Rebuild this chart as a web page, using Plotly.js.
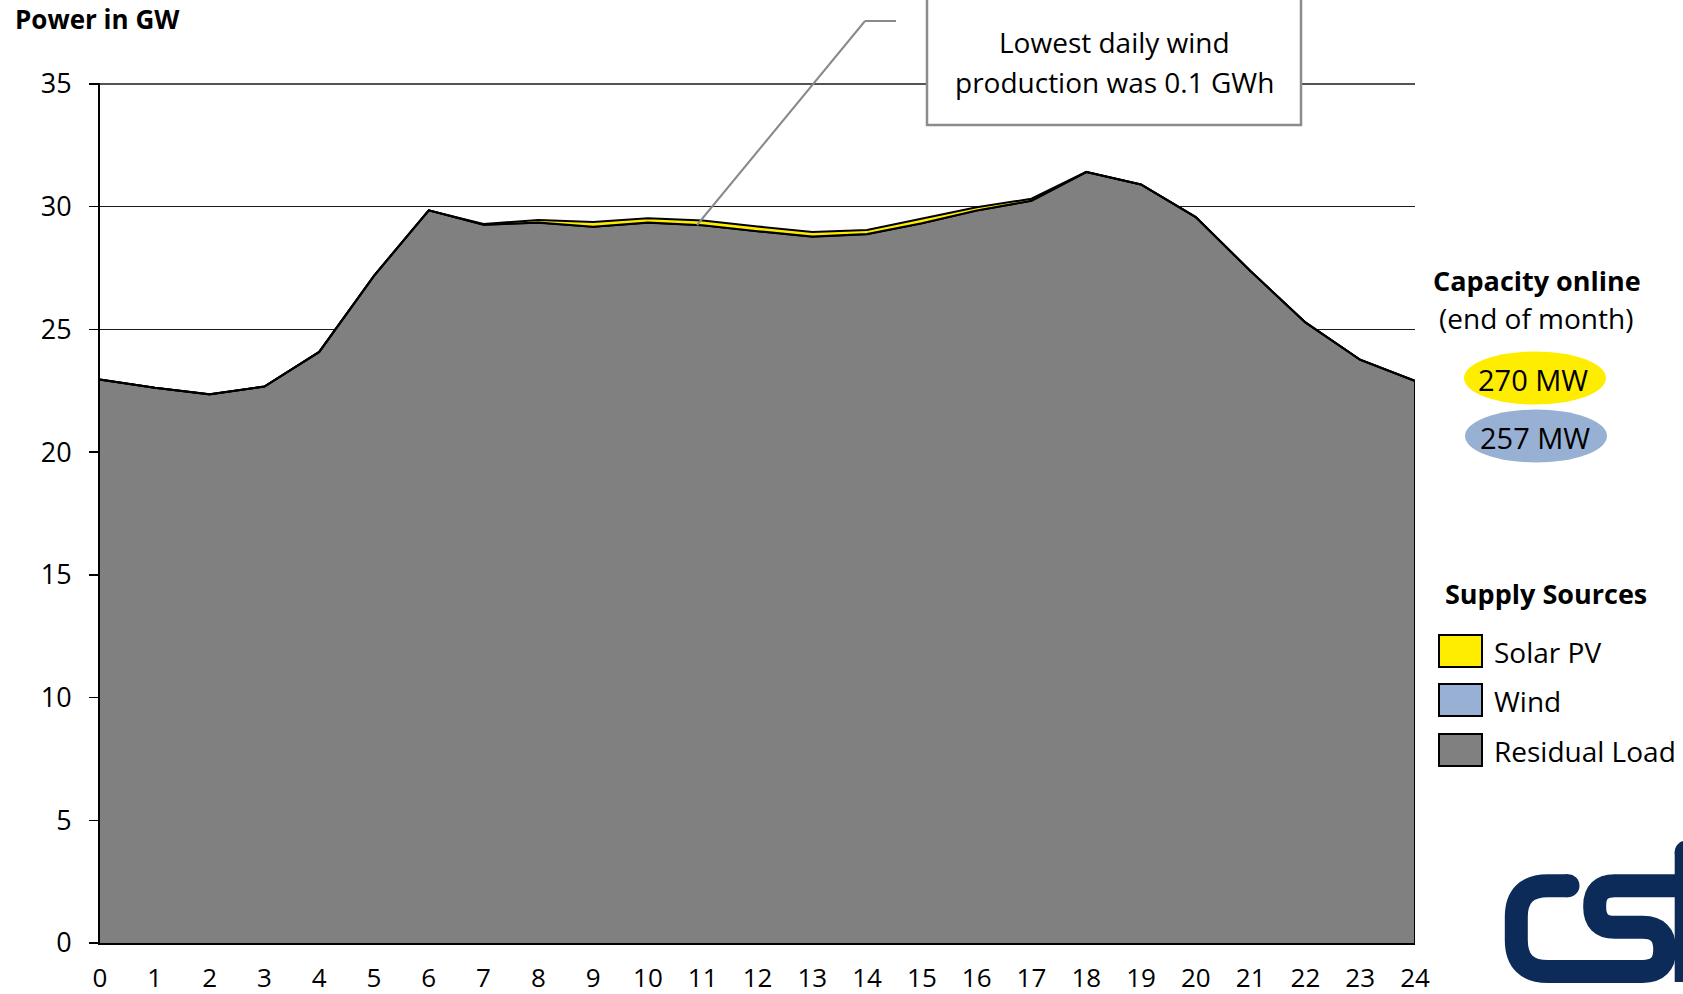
<!DOCTYPE html>
<html><head><meta charset="utf-8">
<script src="https://cdn.plot.ly/plotly-3.0.1.min.js"></script>
<style>html,body{margin:0;padding:0;background:#fff}</style>
</head><body><div id="chart" style="width:1683px;height:994px"></div>
<script>
// ---- data ----
const hours = [0,1,2,3,4,5,6,7,8,9,10,11,12,13,14,15,16,17,18,19,20,21,22,23,24];
const residualLoad = [22.95,22.62,22.35,22.67,24.08,27.18,29.85,29.26,29.35,29.18,29.35,29.24,29.0,28.78,28.88,29.32,29.84,30.24,31.41,30.9,29.57,27.37,25.28,23.76,22.9];
const windPower = [0.012,0.005,0.004,0.003,0.003,0.004,0.005,0.005,0.004,0.003,0.003,0.004,0.004,0.004,0.005,0.004,0.004,0.004,0.004,0.005,0.005,0.004,0.004,0.005,0.005];
const solarPower = [0,0,0,0,0,0,0,0.03,0.1,0.19,0.18,0.19,0.19,0.19,0.17,0.2,0.13,0.08,0.01,0,0,0,0,0,0];
const yTicks = [0,5,10,15,20,25,30,35];
const seriesNames = ['Residual Load','Wind','Solar PV'];
const capacitySolar = '270 MW';
const capacityWind = '257 MW';
const noteLines = ['Lowest daily wind','production was 0.1 GWh'];

// ---- layout helpers (pixel -> paper) ----
const W = 1683, H = 994, ML = 100, MR = 268, MT = 83, MB = 51;
const PW = W - ML - MR, PH = H - MT - MB;
const px = v => (v - ML) / PW;
const py = v => (H - MB - v) / PH;
const FONT = 'Open Sans, sans-serif';
const COL = {solar:'#FFED00', wind:'#97B0D4', resid:'#808080', navy:'#0D2B58'};

const lastIdx = hours.length - 1;
const totalEnd = residualLoad[lastIdx] + windPower[lastIdx] + solarPower[lastIdx];
const topTick = yTicks[yTicks.length - 1];

const traces = [
  {x: hours, y: residualLoad, name: seriesNames[0], type:'scatter', mode:'lines', stackgroup:'one',
   fillcolor: COL.resid, line:{color:'#000', width:2}, hoverinfo:'skip'},
  {x: hours, y: windPower, name: seriesNames[1], type:'scatter', mode:'lines', stackgroup:'one',
   fillcolor: COL.wind, line:{color:'#000', width:2}, hoverinfo:'skip'},
  {x: hours, y: solarPower, name: seriesNames[2], type:'scatter', mode:'lines', stackgroup:'one',
   fillcolor: COL.solar, line:{color:'#000', width:2}, hoverinfo:'skip'},
  {x: [hours[lastIdx], hours[lastIdx]], y: [0, totalEnd], type:'scatter', mode:'lines',
   line:{color:'#000', width:2}, showlegend:false, hoverinfo:'skip'}
];

// logo path (centerlines) built from pixel positions
function P(cmds){
  return cmds.map(c => c[0] + ' ' + c.slice(1).reduce((a,v,i)=>{
    a.push(i%2===0 ? px(v).toFixed(5) : py(v).toFixed(5)); return a;},[]).join(',')).join(' ');
}
const logoCS = P([
  ['M',1568,885.7],['L',1548,885.7],['Q',1516.3,885.7,1516.3,917],['L',1516.3,940],
  ['Q',1516.3,971.5,1548,971.5],['L',1642.7,971.5],['Q',1664.7,971.5,1664.7,949.4],
  ['Q',1664.7,927.3,1642.7,927.3],['L',1614.7,927.3],['Q',1594.7,927.3,1594.7,907.3],
  ['L',1594.7,905.7],['Q',1594.7,885.7,1614.7,885.7],['L',1700,885.7]]);
const logoI = P([['M',1686.2,852],['L',1686.2,982]]);
const cap = (cx, cy, r) => ({type:'circle', xref:'paper', yref:'paper', x0:px(cx-r), x1:px(cx+r),
  y0:py(cy+r), y1:py(cy-r), fillcolor:COL.navy, line:{width:0}});

const shapes = [
  // top gridline (at highest tick)
  {type:'line', xref:'paper', yref:'y', x0:px(91), x1:1, y0:topTick, y1:topTick, line:{color:'#1a1a1a', width:1.5}, layer:'below'},
  // annotation box
  {type:'rect', xref:'paper', yref:'paper', x0:px(927), x1:px(1301), y0:py(125), y1:py(-10),
   fillcolor:'#fff', line:{color:'#8c8c8c', width:2.5}, layer:'above'},
  // leader line
  {type:'line', xref:'paper', yref:'paper', x0:px(896), y0:py(21), x1:px(865), y1:py(21), line:{color:'#898989', width:2}},
  {type:'line', xref:'paper', yref:'paper', x0:px(865), y0:py(21), x1:px(697), y1:py(225), line:{color:'#898989', width:2}},
  // capacity ellipses
  {type:'circle', xref:'paper', yref:'paper', x0:px(1464), x1:px(1606), y0:py(404.5), y1:py(351.5), fillcolor:COL.solar, line:{width:0}},
  {type:'circle', xref:'paper', yref:'paper', x0:px(1465), x1:px(1607), y0:py(462.5), y1:py(409.5), fillcolor:COL.wind, line:{width:0}},
  // legend boxes
  {type:'rect', xref:'paper', yref:'paper', x0:px(1439), x1:px(1482), y0:py(667), y1:py(635), fillcolor:COL.solar, line:{color:'#000', width:2}},
  {type:'rect', xref:'paper', yref:'paper', x0:px(1439), x1:px(1482), y0:py(716), y1:py(684), fillcolor:COL.wind, line:{color:'#000', width:2}},
  {type:'rect', xref:'paper', yref:'paper', x0:px(1439), x1:px(1482), y0:py(766), y1:py(734), fillcolor:COL.resid, line:{color:'#000', width:2}},
  // logo
  {type:'path', xref:'paper', yref:'paper', path:logoCS, line:{color:COL.navy, width:23}},
  {type:'path', xref:'paper', yref:'paper', path:logoI, line:{color:COL.navy, width:23}},
  cap(1568,885.7,11.5), cap(1686.2,852.2,11.5)
];

const ann = (text, x, y, opts={}) => Object.assign({text, xref:'paper', yref:'paper', x:px(x), y:py(y),
  showarrow:false, xanchor:'center', yanchor:'middle', font:{family:FONT, size:28, color:'#000'}}, opts);
const boldFont = {family:FONT, size:27, color:'#000'};

const annotations = [
  ann('<b>Power in GW</b>', 13, 19, {xanchor:'left', font:{family:FONT, size:26, color:'#000'}}),
  ann(noteLines[0], 1114, 42.5),
  ann(noteLines[1], 1114, 82),
  ann('<b>Capacity online</b>', 1537, 280, {font:boldFont}),
  ann('(end of month)', 1536, 318),
  ann(capacitySolar, 1533, 379, {font:{family:FONT, size:29, color:'#000'}}),
  ann(capacityWind, 1535, 437, {font:{family:FONT, size:29, color:'#000'}}),
  ann('<b>Supply Sources</b>', 1546, 593, {font:boldFont}),
  ann(seriesNames[2], 1492, 652, {xanchor:'left'}),
  ann(seriesNames[1], 1492, 701, {xanchor:'left'}),
  ann(seriesNames[0], 1492, 751, {xanchor:'left'})
];

const layout = {
  width: W, height: H,
  margin: {l:ML, r:MR, t:MT, b:MB, pad:0},
  paper_bgcolor:'#fff', plot_bgcolor:'#fff',
  showlegend:false,
  font:{family:FONT, size:27, color:'#000'},
  xaxis:{range:[0,24], tickvals:hours, ticktext:hours.map(String), showgrid:false, zeroline:false,
         showline:true, linecolor:'#000', linewidth:2, ticks:'', ticklabelstandoff:11,
         tickfont:{family:FONT, size:26, color:'#000'}, fixedrange:true},
  yaxis:{range:[0,35.04], tickvals:yTicks, showgrid:true, gridcolor:'#1a1a1a', gridwidth:1.5, zeroline:false,
         showline:true, linecolor:'#000', linewidth:2, ticks:'outside', ticklen:9, tickwidth:1.5, tickcolor:'#000',
         ticklabelstandoff:12, tickfont:{family:FONT, size:27, color:'#000'}, fixedrange:true},
  shapes, annotations
};

Plotly.newPlot('chart', traces, layout, {displayModeBar:false, staticPlot:true});
</script></body></html>
